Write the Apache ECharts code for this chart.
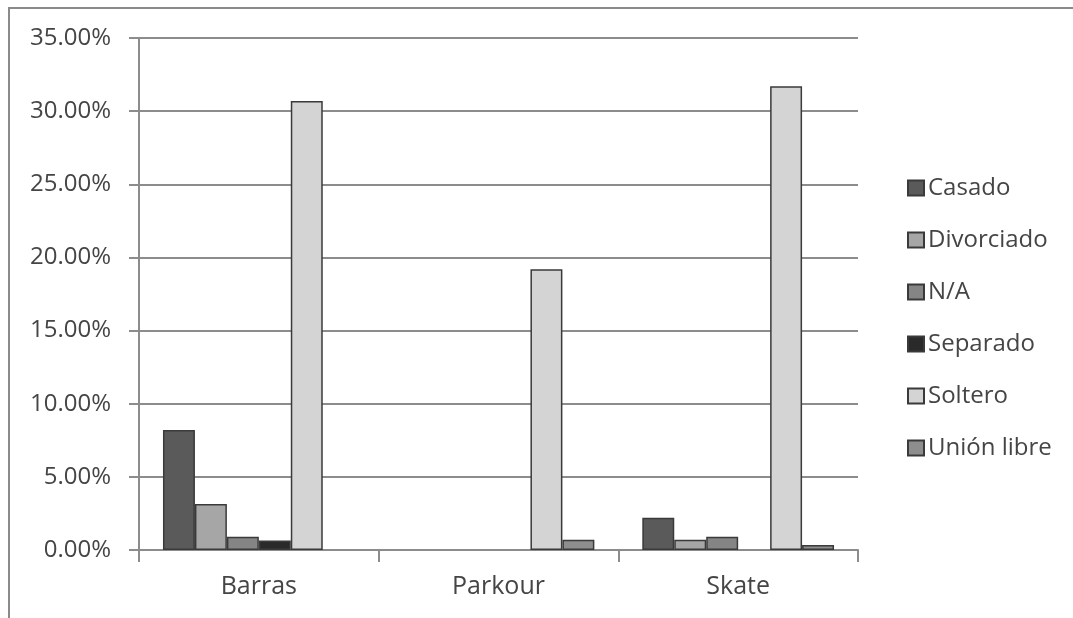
<!DOCTYPE html>
<html>
<head>
<meta charset="utf-8">
<script src="https://cdn.jsdelivr.net/npm/echarts@6/dist/echarts.min.js"></script>
<style>
  html, body { margin: 0; padding: 0; background: #fff; }
  #chart { width: 1073px; height: 618px; }
</style>
</head>
<body>
<div id="chart"></div>
<script>
// Activities on the x axis
const categories = ['Barras', 'Parkour', 'Skate'];

// Share of respondents (%) by marital status, per activity
const casado     = [8.2, 0, 2.2];
const divorciado = [3.15, 0, 0.7];
const noAplica   = [0.9, 0, 0.9];
const separado   = [0.65, 0, 0];
const soltero    = [30.7, 19.2, 31.7];
const unionLibre = [0, 0.7, 0.35];

const seriesNames  = ['Casado', 'Divorciado', 'N/A', 'Separado', 'Soltero', 'Unión libre'];
const seriesValues = [casado, divorciado, noAplica, separado, soltero, unionLibre];
const seriesColors = ['#5a5a5a', '#a6a6a6', '#858585', '#2a2a2a', '#d4d4d4', '#8e8e8e'];

const chart = echarts.init(document.getElementById('chart'));
const font = '"Open Sans", sans-serif';
const textColor = '#454545';

// Empty (zero) bars get no outline so they leave no mark on the axis
const toItems = values => values.map(v => (
  v === 0 ? { value: v, itemStyle: { borderWidth: 0 } } : v
));

chart.setOption({
  animation: false,
  backgroundColor: '#fff',
  graphic: [{
    type: 'rect',
    shape: { x: 9, y: 8, width: 1200, height: 800 },
    style: { fill: 'none', stroke: '#8a8a8a', lineWidth: 2 },
    silent: true
  }],
  grid: { left: 139, top: 38, right: 215, bottom: 68 },
  legend: {
    orient: 'vertical',
    left: 902,
    top: 171,
    itemWidth: 16,
    itemHeight: 15,
    itemGap: 28,
    icon: 'rect',
    textStyle: { fontFamily: font, fontSize: 24, color: textColor, padding: [0, 0, 0, -1] },
    data: seriesNames
  },
  xAxis: {
    type: 'category',
    data: categories,
    axisLine: { lineStyle: { color: '#8c8c8c', width: 2 } },
    axisTick: { show: true, length: 12, lineStyle: { color: '#8c8c8c', width: 2 } },
    axisLabel: { fontFamily: font, fontSize: 25, color: textColor, margin: 24 }
  },
  yAxis: {
    type: 'value',
    min: 0,
    max: 35,
    interval: 5,
    axisLine: { show: true, lineStyle: { color: '#8c8c8c', width: 2 } },
    axisTick: { show: true, length: 10, lineStyle: { color: '#8c8c8c', width: 2 } },
    splitLine: { lineStyle: { color: '#8c8c8c', width: 2 } },
    axisLabel: {
      fontFamily: font, fontSize: 24, color: textColor, margin: 28,
      formatter: v => v.toFixed(2) + '%'
    }
  },
  series: seriesNames.map((name, i) => ({
    name,
    type: 'bar',
    data: toItems(seriesValues[i]),
    barGap: '0%',
    barCategoryGap: '20%',
    itemStyle: { color: seriesColors[i], borderColor: '#3a3a3a', borderWidth: 1.5 }
  }))
});
</script>
</body>
</html>
